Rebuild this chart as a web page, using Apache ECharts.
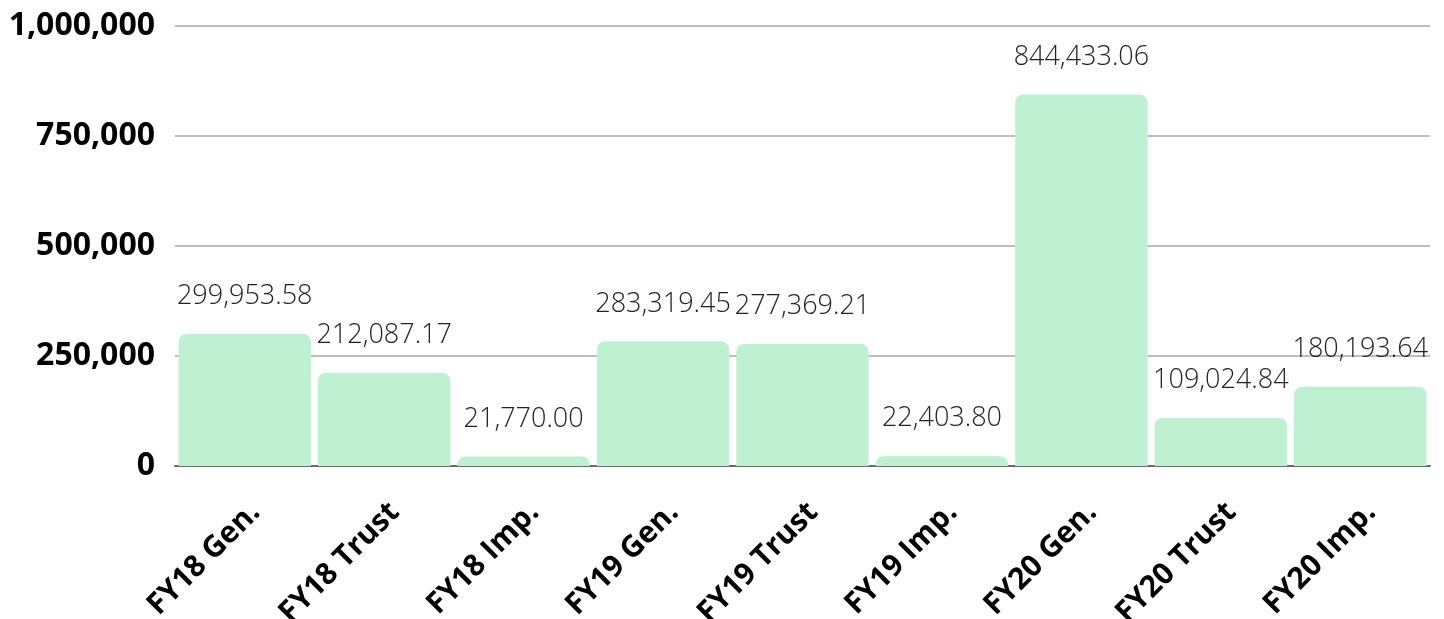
<!DOCTYPE html>
<html>
<head>
<meta charset="utf-8">
<script src="https://cdn.jsdelivr.net/npm/echarts@6/dist/echarts.min.js"></script>
<style>
  html, body { margin: 0; padding: 0; background: #fff; }
  #chart { width: 1444px; height: 619px; }
</style>
</head>
<body>
<div id="chart"></div>
<script>
const categories = ['FY18 Gen.', 'FY18 Trust', 'FY18 Imp.', 'FY19 Gen.', 'FY19 Trust', 'FY19 Imp.', 'FY20 Gen.', 'FY20 Trust', 'FY20 Imp.'];
const amounts = [299953.58, 212087.17, 21770.00, 283319.45, 277369.21, 22403.80, 844433.06, 109024.84, 180193.64];

const fmtInt = v => v.toLocaleString('en-US');
const fmtMoney = v => v.toLocaleString('en-US', { minimumFractionDigits: 2, maximumFractionDigits: 2 });

const chart = echarts.init(document.getElementById('chart'));
chart.setOption({
    animation: false,
    grid: { left: 175, right: 14, top: 26, bottom: 153, outerBoundsMode: 'none', containLabel: false },
    xAxis: {
        type: 'category',
        data: categories,
        axisTick: { show: false },
        axisLine: { lineStyle: { color: '#6b6b6b', width: 2 } },
        axisLabel: {
            interval: 0,
            rotate: 45,
            margin: 31,
            verticalAlign: 'top',
            color: '#000',
            fontSize: 30,
            fontWeight: 'bold',
            fontFamily: 'Open Sans'
        }
    },
    yAxis: {
        type: 'value',
        min: 0,
        max: 1000000,
        interval: 250000,
        axisLine: { show: false },
        axisTick: { show: false },
        axisLabel: {
            margin: 20,
            padding: [5, 0, 0, 0],
            color: '#000',
            fontSize: 32,
            fontWeight: 'bold',
            fontFamily: 'Open Sans',
            formatter: fmtInt
        },
        splitLine: { lineStyle: { color: '#bdbdbd', width: 2 } }
    },
    series: [{
        type: 'bar',
        data: amounts,
        barCategoryGap: '5%',
        itemStyle: { color: '#c0f0d2', borderRadius: [8, 8, 0, 0] },
        label: {
            show: true,
            position: 'top',
            distance: 24,
            color: '#222',
            fontSize: 27,
            fontWeight: 300,
            fontFamily: 'Open Sans',
            formatter: p => fmtMoney(p.value)
        }
    }]
});
</script>
</body>
</html>
